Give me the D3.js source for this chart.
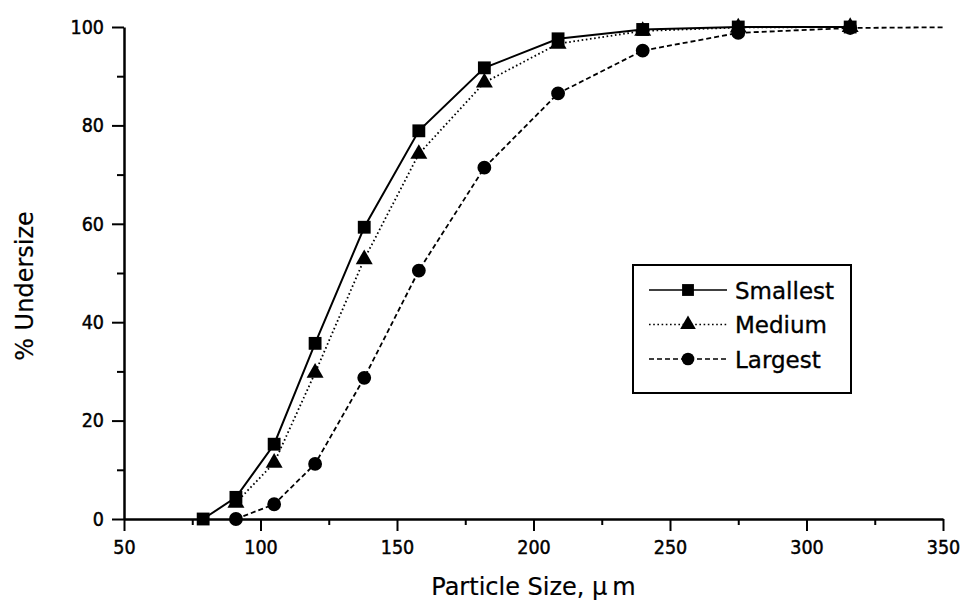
<!DOCTYPE html>
<html>
<head>
<meta charset="utf-8">
<script src="https://cdn.jsdelivr.net/npm/d3@7"></script>
<style>
  html, body { margin: 0; padding: 0; background: #fff; }
  svg { display: block; }
  .tick-label { font-family: "DejaVu Sans Condensed", "DejaVu Sans", sans-serif; font-stretch: condensed; font-size: 19.5px; fill: #000; stroke: #000; stroke-width: 0.45px; }
  .title { font-family: "DejaVu Sans", Verdana, sans-serif; font-size: 24px; fill: #000; stroke: #000; stroke-width: 0.2px; }
  .legend-text { font-family: "DejaVu Sans", Verdana, sans-serif; font-size: 23px; fill: #000; stroke: #000; stroke-width: 0.35px; }
</style>
</head>
<body>
<svg id="chart" width="962" height="601"></svg>
<script>
// Sieve sizes (µm) and cumulative % undersize for the three fractions
const sizesSmallest = [79, 91, 105, 120, 138, 158, 182, 209, 240, 275, 316];
const smallest      = [0, 4.4, 15.2, 35.7, 59.3, 78.9, 91.7, 97.6, 99.5, 100, 100];

const sizesMedium   = [91, 105, 120, 138, 158, 182, 209, 240, 275, 316];
const medium        = [3.3, 11.4, 29.7, 52.8, 74.2, 88.7, 96.6, 99.2, 99.9, 100];

const sizesLargest  = [91, 105, 120, 138, 158, 182, 209, 240, 275, 316, 363];
const largest       = [0, 3.0, 11.2, 28.7, 50.5, 71.4, 86.5, 95.2, 98.8, 99.8, 100];

const seriesNames = ["Smallest", "Medium", "Largest"];

const xMajorTicks = [50, 100, 150, 200, 250, 300, 350];
const xMinorTicks = [75, 125, 175, 225, 275, 325];
const yMajorTicks = [0, 20, 40, 60, 80, 100];
const yMinorTicks = [10, 30, 50, 70, 90];

const svg = d3.select("#chart");

const x = d3.scaleLinear().domain([50, 350]).range([124, 943]);
const y = d3.scaleLinear().domain([0, 100]).range([519, 27]);

// Series styling
const series = [
  { name: seriesNames[2], xs: sizesLargest, ys: largest, dash: "5,3", symbol: d3.symbolCircle, size: 150 },
  { name: seriesNames[1], xs: sizesMedium, ys: medium, dash: "1.6,2.6", symbol: d3.symbolTriangle, size: 125 },
  { name: seriesNames[0], xs: sizesSmallest, ys: smallest, dash: null, symbol: d3.symbolSquare, size: 165 }
];

svg.append("defs").append("clipPath").attr("id", "plotClip")
  .append("rect").attr("x", x.range()[0]).attr("y", 0)
  .attr("width", x.range()[1] - x.range()[0] + 1).attr("height", 601);

// Axes
const xAxis = svg.append("g").attr("transform", `translate(0,${y(0)})`)
  .call(d3.axisBottom(x).tickValues(xMajorTicks).tickSize(12).tickPadding(9).tickSizeOuter(0));
svg.append("g").attr("transform", `translate(0,${y(0)})`)
  .call(d3.axisBottom(x).tickValues(xMinorTicks).tickSize(6).tickFormat("").tickSizeOuter(0))
  .select(".domain").remove();

const yAxis = svg.append("g").attr("transform", `translate(${x(50)},0)`)
  .call(d3.axisLeft(y).tickValues(yMajorTicks).tickSize(12).tickPadding(8).tickSizeOuter(0));
svg.append("g").attr("transform", `translate(${x(50)},0)`)
  .call(d3.axisLeft(y).tickValues(yMinorTicks).tickSize(7).tickFormat("").tickSizeOuter(0))
  .select(".domain").remove();

svg.selectAll(".domain").attr("stroke", "#000").attr("stroke-width", 2.5);
svg.selectAll(".tick line").attr("stroke", "#000").attr("stroke-width", 2);
svg.selectAll(".tick text").attr("class", "tick-label").attr("font-family", null).attr("font-size", null);
xAxis.selectAll(".tick text").attr("dy", "0.71em");

// Lines and markers
const plot = svg.append("g").attr("clip-path", "url(#plotClip)");
const line = d3.line().x(d => x(d[0])).y(d => y(d[1]));

series.forEach(s => {
  const pts = s.xs.map((v, i) => [v, s.ys[i]]);
  plot.append("path").datum(pts)
    .attr("d", line)
    .attr("fill", "none")
    .attr("stroke", "#000")
    .attr("stroke-width", s.dash ? 1.8 : 2)
    .attr("stroke-dasharray", s.dash);
});
series.forEach(s => {
  const pts = s.xs.map((v, i) => [v, s.ys[i]]);
  plot.selectAll(null).data(pts).enter().append("path")
    .attr("transform", d => `translate(${x(d[0])},${y(d[1])})`)
    .attr("d", d3.symbol().type(s.symbol).size(s.size))
    .attr("fill", "#000");
});

// Axis titles
svg.append("text").attr("class", "title")
  .attr("x", (x.range()[0] + x.range()[1]) / 2).attr("y", 595)
  .attr("text-anchor", "middle")
  .text("Particle Size, ")
  .append("tspan").text("\u03bc")
  .append("tspan").attr("dx", 5).text("m");

svg.append("text").attr("class", "title")
  .attr("transform", "translate(33,286) rotate(-90)")
  .attr("text-anchor", "middle")
  .text("% Undersize");

// Legend
const legend = svg.append("g");
legend.append("rect")
  .attr("x", 633).attr("y", 265).attr("width", 218).attr("height", 128)
  .attr("fill", "#fff").attr("stroke", "#000").attr("stroke-width", 2);

const legendOrder = [series[2], series[1], series[0]];
legendOrder.forEach((s, i) => {
  const cy = 290 + i * 34.5;
  legend.append("line")
    .attr("x1", 649).attr("x2", 727).attr("y1", cy).attr("y2", cy)
    .attr("stroke", "#000").attr("stroke-width", s.dash ? 1.3 : 1.5)
    .attr("stroke-dasharray", s.dash);
  legend.append("path")
    .attr("transform", `translate(688,${cy})`)
    .attr("d", d3.symbol().type(s.symbol).size(s.size * 0.85))
    .attr("fill", "#000");
  legend.append("text").attr("class", "legend-text")
    .attr("x", 735).attr("y", cy + 8.5)
    .text(s.name);
});
</script>
</body>
</html>
